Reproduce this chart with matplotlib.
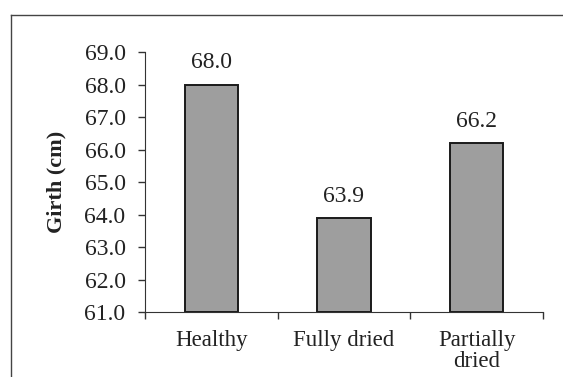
import numpy as np
import matplotlib
matplotlib.use("Agg")
import matplotlib.pyplot as plt
from matplotlib.lines import Line2D

# ******************************************************************

categories = ["Healthy", "Fully dried", "Partially\ndried"]
girth = [68.0, 63.9, 66.2]
value_labels = ["68.0", "63.9", "66.2"]
y_ticks = [61.0, 62.0, 63.0, 64.0, 65.0, 66.0, 67.0, 68.0, 69.0]

# ******************************************************************

plt.rcParams['font.family'] = ['Liberation Serif', 'DejaVu Serif']

fig = plt.figure(figsize=(5.63, 3.77), dpi=100)
ax = fig.add_axes([0.2575, 0.1724, 0.707, 0.6896])

x = np.arange(len(categories))
ax.bar(x, np.array(girth) - 61.0, bottom=61.0, width=0.4,
       color='#9e9e9e', edgecolor='#1a1a1a', linewidth=1.4, zorder=2)

for i, v in enumerate(girth):
    ax.annotate(value_labels[i], (x[i], v), xytext=(0, 8),
                textcoords='offset points', ha='center', va='bottom',
                fontsize=17, color='#222222')

ax.set_xlim(-0.5, 2.5)
ax.set_ylim(61.0, 69.0)
ax.set_yticks(y_ticks)
ax.set_yticklabels(["%.1f" % t for t in y_ticks], fontsize=17, color='#222222')

# tick marks at category boundaries, labels in the middle
ax.set_xticks([-0.5, 0.5, 1.5, 2.5])
ax.set_xticklabels([])
ax.set_xticks(x, minor=True)
ax.set_xticklabels(categories, minor=True, fontsize=16.5, color='#222222',
                   linespacing=1.0)
ax.tick_params(axis='x', which='minor', length=0, pad=13)
ax.tick_params(axis='x', which='major', length=5, width=1, color='#333333')
ax.tick_params(axis='y', length=5, width=1, color='#333333', pad=9)

ax.spines['top'].set_visible(False)
ax.spines['right'].set_visible(False)
ax.spines['left'].set_color('#333333')
ax.spines['bottom'].set_color('#333333')

ax.set_ylabel("Girth (cm)", fontsize=16, fontweight='bold', color='#222222',
              labelpad=13)

# outer frame (top and left only, rest is cut off)
fig.add_artist(Line2D([11/563, 1.0], [1 - 15/377, 1 - 15/377],
                      transform=fig.transFigure, color='#444444', linewidth=1.0))
fig.add_artist(Line2D([11/563, 11/563], [0.0, 1 - 15/377],
                      transform=fig.transFigure, color='#444444', linewidth=1.0))

fig.savefig("out.png", dpi=100)
